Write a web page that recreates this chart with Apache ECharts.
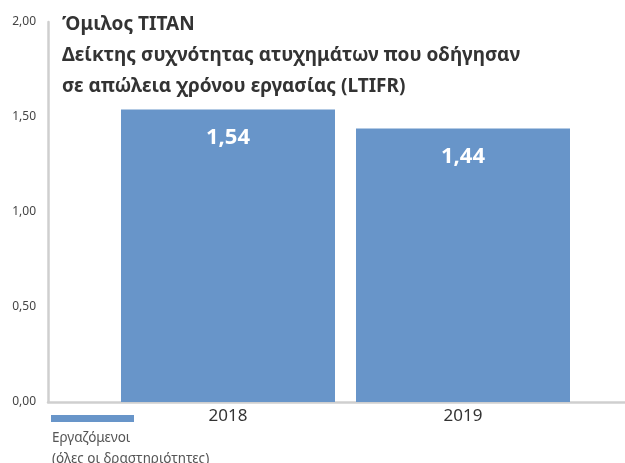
<!DOCTYPE html>
<html>
<head>
<meta charset="utf-8">
<script src="https://cdn.jsdelivr.net/npm/echarts@6/dist/echarts.min.js"></script>
<style>
  html, body { margin: 0; padding: 0; background: #fff; }
  #chart { width: 625px; height: 463px; }
</style>
</head>
<body>
<div id="chart"></div>
<script>
  // data
  let years = ['2018', '2019']
  let ltifr = [1.54, 1.44]
  let seriesName = 'Εργαζόμενοι (όλες οι δραστηριότητες)'
  let titleLines = [
    'Όμιλος TITAN',
    'Δείκτης συχνότητας ατυχημάτων που οδήγησαν',
    'σε απώλεια χρόνου εργασίας (LTIFR)'
  ]

  let fmt = v => v.toFixed(2).replace('.', ',')

  let option = {
    animation: false,
    backgroundColor: '#fff',
    textStyle: { fontFamily: 'Noto Sans' },
    title: {
      text: titleLines.join('\n'),
      left: 57,
      top: 4,
      textStyle: {
        fontSize: 19,
        fontWeight: 'bold',
        color: '#333',
        lineHeight: 31,
        fontFamily: 'Noto Sans'
      }
    },
    legend: {
      data: [seriesName],
      left: 51,
      top: 415,
      padding: 0,
      icon: 'rect',
      itemWidth: 83,
      itemHeight: 7,
      formatter: () => ''
    },
    graphic: [{
      type: 'text',
      left: 52,
      top: 428,
      style: {
        text: 'Εργαζόμενοι\n(όλες οι δραστηριότητες)',
        fontSize: 13.5,
        lineHeight: 21,
        fill: '#555',
        fontFamily: 'Noto Sans'
      }
    }],
    grid: [
      { left: 48, right: 0, top: 22, bottom: 61 },
      { left: 110.5, right: 44.5, top: 22, bottom: 61 }
    ],
    xAxis: [{
      type: 'category',
      gridIndex: 0,
      data: [''],
      axisLine: { lineStyle: { color: '#cfcfcf', width: 2.5 } },
      axisTick: { show: false },
      axisLabel: { show: false }
    }, {
      type: 'category',
      gridIndex: 1,
      data: years,
      axisLine: { show: false },
      axisTick: { show: false },
      axisLabel: { fontSize: 17, color: '#333', margin: 6 }
    }],
    yAxis: [{
      type: 'value',
      gridIndex: 0,
      min: 0,
      max: 2,
      interval: 0.5,
      axisLine: { show: true, lineStyle: { color: '#cfcfcf', width: 2.5 } },
      axisTick: { show: false },
      splitLine: { show: false },
      axisLabel: { fontSize: 12, color: '#444', margin: 12, formatter: fmt }
    }, {
      type: 'value',
      gridIndex: 1,
      min: 0,
      max: 2,
      show: false
    }],
    series: [{
      name: seriesName,
      type: 'bar',
      xAxisIndex: 1,
      yAxisIndex: 1,
      barWidth: 214,
      itemStyle: { color: '#6895c9' },
      label: {
        show: true,
        position: 'insideTop',
        distance: 17,
        fontSize: 22,
        fontWeight: 'bold',
        color: '#fff',
        formatter: p => fmt(p.value)
      },
      data: ltifr
    }]
  }

  let chart = echarts.init(document.getElementById('chart'))
  chart.setOption(option)
</script>
</body>
</html>
